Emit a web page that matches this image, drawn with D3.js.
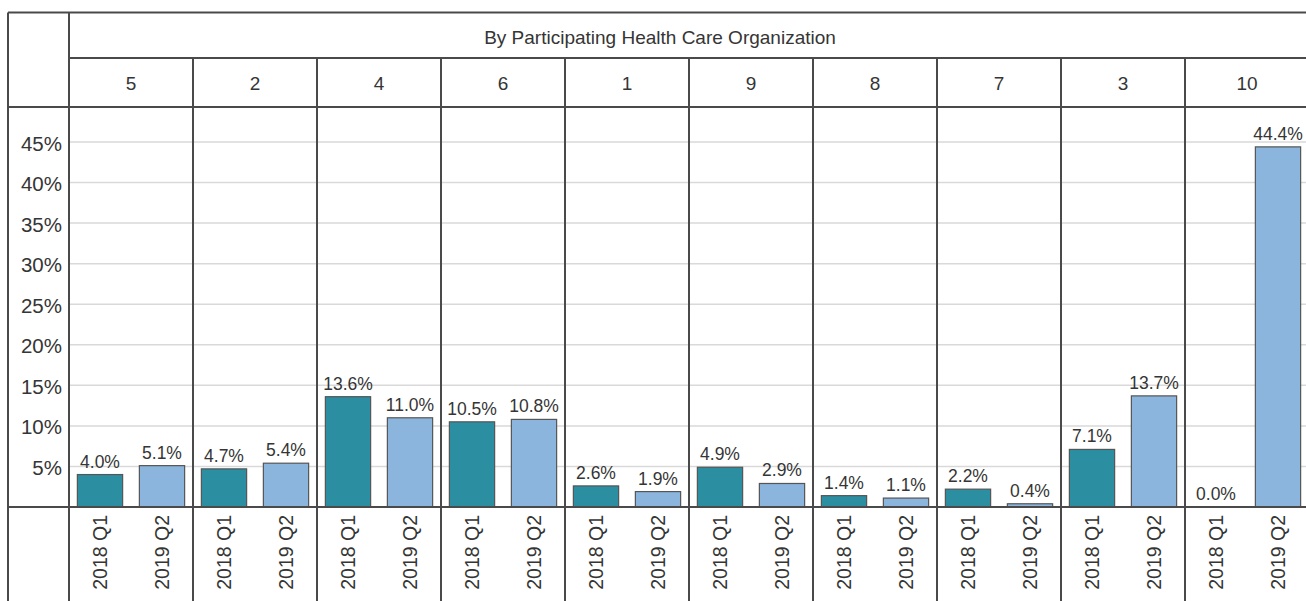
<!DOCTYPE html>
<html>
<head>
<meta charset="utf-8">
<script src="https://cdn.jsdelivr.net/npm/d3@7"></script>
<style>
  body { margin: 0; background: #fff; }
  text { font-family: "Liberation Sans", Arial, sans-serif; fill: #353535; }
</style>
</head>
<body>
<div id="chart"></div>
<script>
const orgs = ["5", "2", "4", "6", "1", "9", "8", "7", "3", "10"];
const periods = ["2018 Q1", "2019 Q2"];
const q1Values = [4.0, 4.7, 13.6, 10.5, 2.6, 4.9, 1.4, 2.2, 7.1, 0.0];
const q2Values = [5.1, 5.4, 11.0, 10.8, 1.9, 2.9, 1.1, 0.4, 13.7, 44.4];
const yTicks = [5, 10, 15, 20, 25, 30, 35, 40, 45];
const headerTitle = "By Participating Health Care Organization";

const width = 1306, height = 601;
const frameLeft = 8, frameTop = 12.5, axisX = 69;
const headerY = 58, catY = 107, baseY = 507;
const panelW = 124;

const colors = { "2018 Q1": "#2b8fa1", "2019 Q2": "#8bb5dc" };
const lineColor = "#4a4a4a";

const svg = d3.select("#chart").append("svg")
  .attr("width", width)
  .attr("height", height);

const x0 = d3.scaleBand().domain(orgs).range([axisX, axisX + orgs.length * panelW]);
const x1 = d3.scaleBand().domain(periods).range([0, panelW]).paddingInner(0.27).paddingOuter(0.135);
const y = d3.scaleLinear().domain([0, 45]).range([baseY, 142]);

const data = orgs.map((o, i) => ({ org: o, values: [
  { period: periods[0], v: q1Values[i] },
  { period: periods[1], v: q2Values[i] }
]}));

// gridlines
svg.append("g")
  .selectAll("line")
  .data(yTicks)
  .enter().append("line")
  .attr("x1", axisX).attr("x2", width)
  .attr("y1", d => y(d)).attr("y2", d => y(d))
  .attr("stroke", "#d9d9d9")
  .attr("stroke-width", 1.5);

// y tick labels
svg.append("g")
  .selectAll("text")
  .data(yTicks)
  .enter().append("text")
  .attr("x", 62)
  .attr("y", d => y(d) + 8.5)
  .attr("text-anchor", "end")
  .style("font-size", "20.5px")
  .text(d => d + "%");

// bars
const panel = svg.append("g").selectAll(".panel")
  .data(data)
  .enter().append("g")
  .attr("class", "panel")
  .attr("transform", d => "translate(" + x0(d.org) + ",0)");

panel.selectAll("rect")
  .data(d => d.values)
  .enter().append("rect")
  .attr("x", d => x1(d.period))
  .attr("y", d => y(d.v))
  .attr("width", x1.bandwidth())
  .attr("height", d => baseY - y(d.v))
  .attr("fill", d => colors[d.period])
  .attr("stroke", "#555")
  .attr("stroke-width", 1.2);

panel.selectAll(".val")
  .data(d => d.values)
  .enter().append("text")
  .attr("class", "val")
  .attr("x", d => x1(d.period) + x1.bandwidth() / 2)
  .attr("y", d => y(d.v) - 7)
  .attr("text-anchor", "middle")
  .style("font-size", "17.5px")
  .text(d => d.v.toFixed(1) + "%");

// rotated period labels
panel.selectAll(".per")
  .data(d => d.values)
  .enter().append("text")
  .attr("class", "per")
  .attr("transform", d => "translate(" + (x1(d.period) + x1.bandwidth() / 2 + 7) + ",515) rotate(-90)")
  .attr("text-anchor", "end")
  .style("font-size", "19.5px")
  .text(d => d.period);

// org labels
svg.append("g").selectAll("text")
  .data(orgs)
  .enter().append("text")
  .attr("x", d => x0(d) + panelW / 2)
  .attr("y", 89.5)
  .attr("text-anchor", "middle")
  .style("font-size", "19px")
  .text(d => d);

svg.append("text")
  .attr("x", 660)
  .attr("y", 44)
  .attr("text-anchor", "middle")
  .style("font-size", "19px")
  .text(headerTitle);

// frame lines
const lines = svg.append("g").attr("stroke", lineColor).attr("stroke-width", 2);
lines.append("line").attr("x1", frameLeft).attr("x2", width).attr("y1", frameTop).attr("y2", frameTop);
lines.append("line").attr("x1", frameLeft).attr("x2", frameLeft).attr("y1", frameTop).attr("y2", height);
lines.append("line").attr("x1", axisX).attr("x2", axisX).attr("y1", frameTop).attr("y2", height);
lines.append("line").attr("x1", axisX).attr("x2", width).attr("y1", headerY).attr("y2", headerY);
lines.append("line").attr("x1", frameLeft).attr("x2", width).attr("y1", catY).attr("y2", catY);
lines.append("line").attr("x1", frameLeft).attr("x2", width).attr("y1", baseY).attr("y2", baseY);
lines.selectAll(".sep")
  .data(orgs.slice(1))
  .enter().append("line")
  .attr("class", "sep")
  .attr("x1", d => x0(d)).attr("x2", d => x0(d))
  .attr("y1", headerY).attr("y2", height);
</script>
</body>
</html>
